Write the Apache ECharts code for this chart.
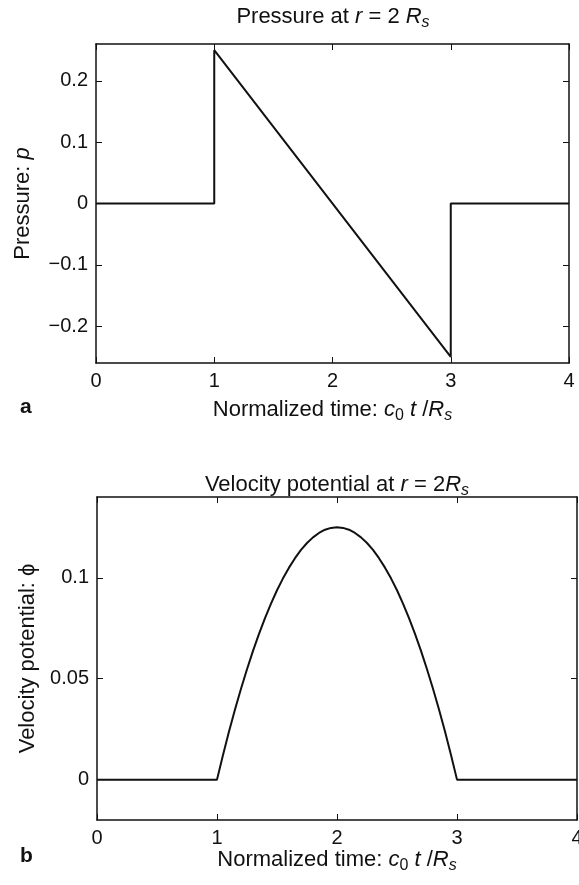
<!DOCTYPE html>
<html>
<head>
<meta charset="utf-8">
<script src="https://cdn.jsdelivr.net/npm/echarts@6/dist/echarts.min.js"></script>
<style>
  html, body { margin: 0; padding: 0; background: #fff; }
  #chart { width: 579px; height: 885px; }
</style>
</head>
<body>
<div id="chart"></div>
<script>
// Panel a: pressure pulse at r = 2 Rs (jump up at t = 1, linear fall, jump back at t = 3)
const pressureTime = [0, 1, 1, 3, 3, 4];
const pressureValue = [0, 0, 0.25, -0.25, 0, 0];

// Panel b: velocity potential at r = 2 Rs
const phiTime = [0, 1,
  1.05, 1.1, 1.15, 1.2, 1.25, 1.3, 1.35, 1.4, 1.45, 1.5,
  1.55, 1.6, 1.65, 1.7, 1.75, 1.8, 1.85, 1.9, 1.95, 2.0,
  2.05, 2.1, 2.15, 2.2, 2.25, 2.3, 2.35, 2.4, 2.45, 2.5,
  2.55, 2.6, 2.65, 2.7, 2.75, 2.8, 2.85, 2.9, 2.95, 3, 4];
const phiValue = [0, 0,
  0.0122, 0.0238, 0.0347, 0.045, 0.0547, 0.0638, 0.0722, 0.08, 0.0872, 0.0938,
  0.0997, 0.105, 0.1097, 0.1138, 0.1172, 0.12, 0.1222, 0.1238, 0.1247, 0.125,
  0.1247, 0.1238, 0.1222, 0.12, 0.1172, 0.1138, 0.1097, 0.105, 0.0997, 0.0938,
  0.0872, 0.08, 0.0722, 0.0638, 0.0547, 0.045, 0.0347, 0.0238, 0.0122, 0, 0];

const xTicks = [0, 1, 2, 3, 4];
const pressureTicks = [-0.2, -0.1, 0, 0.1, 0.2];
const phiTicks = [0, 0.05, 0.1];

const FONT = 'Liberation Sans, Arial, Helvetica, sans-serif';
const TICK_FS = 20;   // tick labels
const LABEL_FS = 22;  // axis names and titles

const rich = {
  n: { fontFamily: FONT, fontSize: LABEL_FS, fontWeight: 'normal', color: '#111' },
  i: { fontFamily: FONT, fontSize: LABEL_FS, fontWeight: 'normal', fontStyle: 'italic', color: '#111' },
  sub: { fontFamily: FONT, fontSize: 16, fontWeight: 'normal', fontStyle: 'italic', color: '#111', padding: [12, 0, 0, 0] },
  subn: { fontFamily: FONT, fontSize: 16, fontWeight: 'normal', color: '#111', padding: [12, 0, 0, 0] }
};

function pairs(xs, ys) { return xs.map((x, k) => [x, ys[k]]); }

function frameLine() {
  return { show: true, onZero: false, lineStyle: { color: '#111', width: 1.5 } };
}
function tickIn(values) {
  return { show: true, inside: true, length: 6, customValues: values, lineStyle: { color: '#111', width: 1 } };
}

function fmt(v) {
  const r = Math.round(v * 1000) / 1000;
  return r < 0 ? '\u2212' + String(-r) : String(r);
}

function xAxes(gridIndex, gap) {
  return [
    {
      type: 'value', gridIndex, min: 0, max: 4, interval: 1, position: 'bottom',
      axisLine: frameLine(), axisTick: tickIn(xTicks), splitLine: { show: false },
      axisLabel: { color: '#111', fontFamily: FONT, fontSize: TICK_FS, margin: 8, customValues: xTicks },
      name: '{n|Normalized time: }{i|c}{subn|0}{n| }{i|t}{n| /}{i|R}{sub|s}',
      nameLocation: 'middle', nameGap: gap,
      nameTextStyle: { rich }
    },
    {
      type: 'value', gridIndex, min: 0, max: 4, interval: 1, position: 'top',
      axisLine: frameLine(), axisTick: tickIn(xTicks), splitLine: { show: false },
      axisLabel: { show: false }
    }
  ];
}

function yAxes(gridIndex, min, max, ticks, name, gap) {
  return [
    {
      type: 'value', gridIndex, min, max, position: 'left',
      axisLine: frameLine(), axisTick: tickIn(ticks), splitLine: { show: false },
      axisLabel: { color: '#111', fontFamily: FONT, fontSize: TICK_FS, margin: 8, customValues: ticks, formatter: fmt },
      name, nameLocation: 'middle', nameRotate: 90, nameGap: gap,
      nameTextStyle: { rich }
    },
    {
      type: 'value', gridIndex, min, max, position: 'right',
      axisLine: frameLine(), axisTick: tickIn(ticks), splitLine: { show: false },
      axisLabel: { show: false }
    }
  ];
}

const chart = echarts.init(document.getElementById('chart'), null, { renderer: 'canvas' });

chart.setOption({
  animation: false,
  backgroundColor: '#ffffff',
  title: [
    {
      text: '{n|Pressure at }{i|r}{n| = 2 }{i|R}{sub|s}',
      left: 328, top: -2, textAlign: 'center',
      textStyle: { rich }
    },
    {
      text: '{n|Velocity potential at }{i|r}{n| = 2}{i|R}{sub|s}',
      left: 332, top: 466, textAlign: 'center',
      textStyle: { rich }
    }
  ],
  grid: [
    { left: 96, top: 44, width: 473, height: 319, outerBoundsMode: 'none' },
    { left: 97, top: 497, width: 480, height: 323, outerBoundsMode: 'none' }
  ],
  xAxis: [...xAxes(0, 33), ...xAxes(1, 25)],
  yAxis: [
    ...yAxes(0, -0.26, 0.26, pressureTicks, '{n|Pressure: }{i|p}', 62),
    ...yAxes(1, -0.02, 0.14, phiTicks, '{n|Velocity potential: ϕ}', 58)
  ],
  graphic: [
    { type: 'text', left: 20, top: 397, style: { text: 'a', fontFamily: FONT, fontSize: 21, fontWeight: 'bold', fill: '#111' } },
    { type: 'text', left: 20, top: 846, style: { text: 'b', fontFamily: FONT, fontSize: 21, fontWeight: 'bold', fill: '#111' } }
  ],
  series: [
    {
      type: 'line', xAxisIndex: 0, yAxisIndex: 0,
      data: pairs(pressureTime, pressureValue),
      symbol: 'none', lineStyle: { color: '#111', width: 2 }
    },
    {
      type: 'line', xAxisIndex: 2, yAxisIndex: 2,
      data: pairs(phiTime, phiValue),
      symbol: 'none', lineStyle: { color: '#111', width: 2 }
    }
  ]
});
</script>
</body>
</html>
